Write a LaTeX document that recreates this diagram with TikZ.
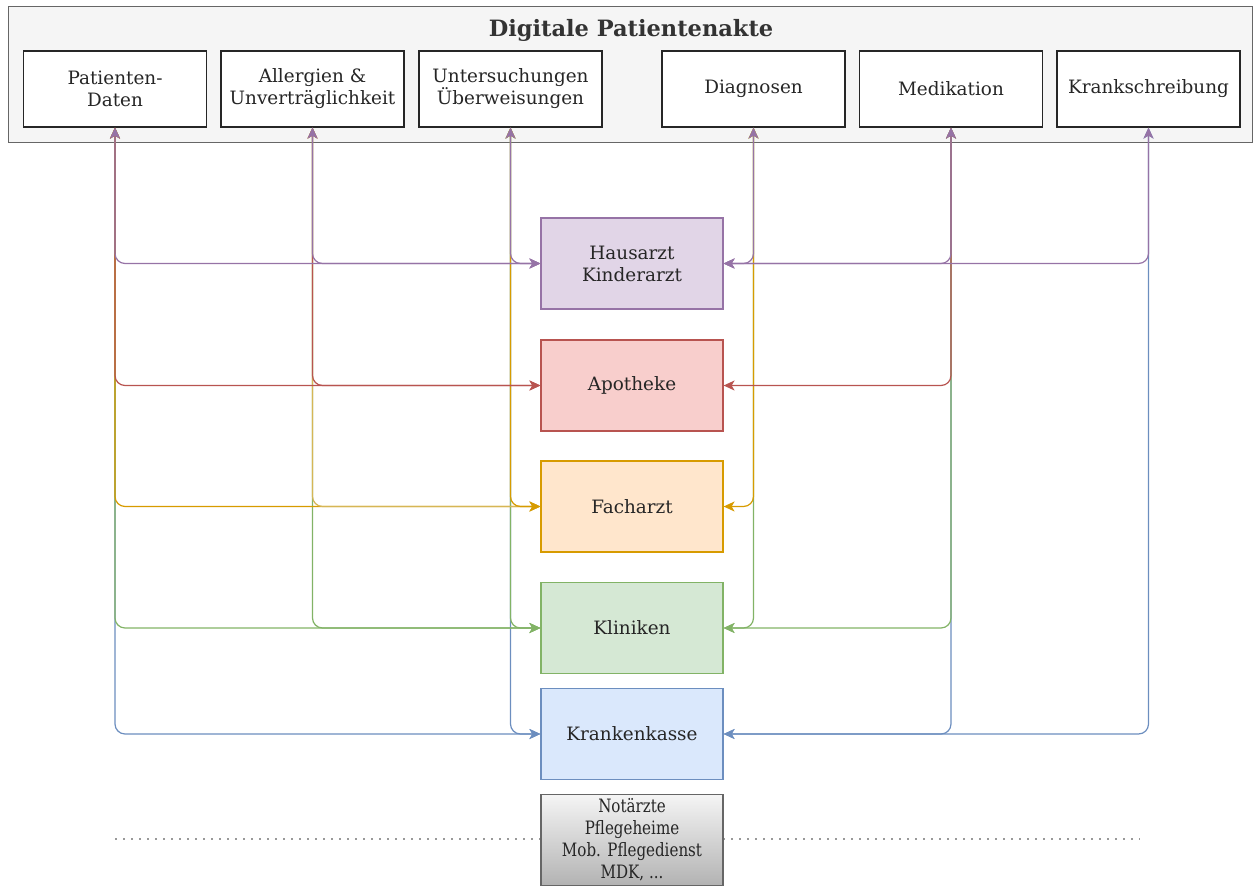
\documentclass[tikz,border=0pt]{standalone}
\usepackage{fontspec}
\setmainfont{DejaVu Serif}
\newfontfamily\narrowfont{DejaVu Serif}[FakeStretch=0.82]
\usetikzlibrary{arrows.meta}
\definecolor{purpline}{HTML}{9673A6}
\definecolor{purpfill}{HTML}{E1D5E7}
\definecolor{redline}{HTML}{B85450}
\definecolor{redfill}{HTML}{F8CECC}
\definecolor{orgline}{HTML}{D79B00}
\definecolor{orgfill}{HTML}{FFE6CC}
\definecolor{yelline}{HTML}{D6B656}
\definecolor{grnline}{HTML}{82B366}
\definecolor{grnfill}{HTML}{D5E8D4}
\definecolor{bluline}{HTML}{6C8EBF}
\definecolor{blufill}{HTML}{DAE8FC}
\definecolor{frame}{HTML}{666666}
\tikzset{
  akte/.style = {draw=frame, fill=black!4, line width=1pt},
  topbox/.style = {draw=black!85, fill=white, line width=1.2pt, minimum width=183pt,
    minimum height=76pt, align=center, text=black!85, font=\fontsize{18.4}{22}\selectfont},
  midbox/.style = {line width=1.2pt, minimum width=182pt, minimum height=91pt,
    align=center, text=black!85, font=\fontsize{18.4}{22}\selectfont},
  link/.style = {line width=1.2pt, rounded corners=10pt, <->,
    >={Stealth[length=11pt, width=10pt, inset=3pt]}}
}
\begin{document}
\begin{tikzpicture}[x = 1pt, y = -1pt]
\useasboundingbox (0,0) rectangle (1253,886);
% Akte
\draw[akte] (8,6) rectangle (1252,142);
\node[text=black!80, font=\fontsize{22.5}{26}\selectfont\bfseries] (title) at (631,30) {Digitale Patientenakte};
\node[topbox] (pat) at (115,89) {Patienten-\\Daten};
\node[topbox] (all) at (312.5,89) {Allergien \&\\Unverträglichkeit};
\node[topbox] (unt) at (510.5,89) {Untersuchungen\\Überweisungen};
\node[topbox] (diag) at (753.5,89) {Diagnosen};
\node[topbox] (med) at (951,89) {Medikation};
\node[topbox] (krank) at (1148.5,89) {Krankschreibung};

% Teilnehmer
\node[midbox, draw=purpline, fill=purpfill] (haus) at (632,263.5) {Hausarzt\\Kinderarzt};
\node[midbox, draw=redline, fill=redfill] (apo) at (632,385.5) {Apotheke};
\node[midbox, draw=orgline, fill=orgfill] (fach) at (632,506.5) {Facharzt};
\node[midbox, draw=grnline, fill=grnfill] (klin) at (632,628) {Kliniken};
\node[midbox, draw=bluline, fill=blufill] (kasse) at (632,734) {Krankenkasse};

% Rest
\coordinate (L) at (115,839);
\coordinate (R) at (1140,839);
\draw[black!40, line width=2pt, dash pattern=on 1.5pt off 6.5pt] (L) -- (R);
\node[midbox, draw=frame, top color=black!4, bottom color=black!30,
  font=\fontsize{18.4}{22}\selectfont\narrowfont] (rest) at (632,840)
  {Notärzte\\Pflegeheime\\Mob. Pflegedienst\\MDK, ...};

% Verbindungen, unten zuerst
\foreach \a in {pat, unt} \draw[link, bluline] (\a.south) |- (kasse.west);
\foreach \a in {med, krank} \draw[link, bluline] (\a.south) |- (kasse.east);
\foreach \a in {pat, all, unt} \draw[link, grnline] (\a.south) |- (klin.west);
\foreach \a in {diag, med} \draw[link, grnline] (\a.south) |- (klin.east);
\draw[link, orgline] (pat.south) |- (fach.west);
\draw[link, yelline] (all.south) |- (fach.west);
\draw[link, orgline] (unt.south) |- (fach.west);
\draw[link, orgline] (diag.south) |- (fach.east);
\foreach \a in {pat, all} \draw[link, redline] (\a.south) |- (apo.west);
\draw[link, redline] (med.south) |- (apo.east);
\foreach \a in {pat, all, unt} \draw[link, purpline] (\a.south) |- (haus.west);
\foreach \a in {diag, med, krank} \draw[link, purpline] (\a.south) |- (haus.east);
\end{tikzpicture}
\end{document}
